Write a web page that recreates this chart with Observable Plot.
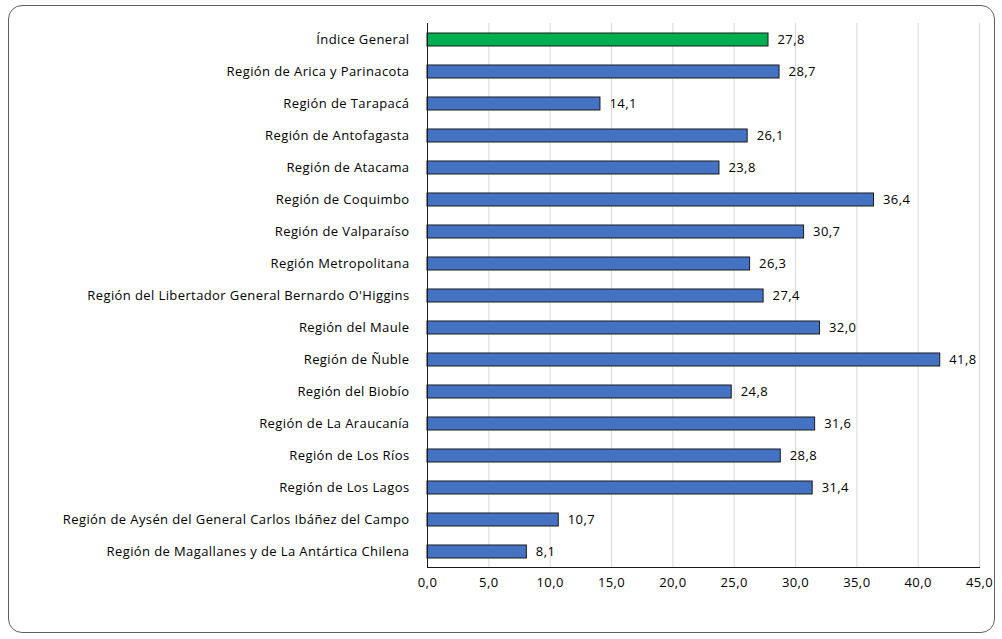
<!DOCTYPE html>
<html>
<head>
<meta charset="utf-8">
<script src="https://cdn.jsdelivr.net/npm/d3@7"></script>
<script src="https://cdn.jsdelivr.net/npm/@observablehq/plot@0.6"></script>
<style>
  html, body { margin: 0; padding: 0; background: #fff; }
  #frame { position: absolute; left: 8px; top: 5px; width: 985px; height: 626px;
           border: 1.5px solid #5f5f5f; border-radius: 14px; }
  #chart { position: absolute; left: 0; top: 0; }
  #chart text { letter-spacing: 0.4px; }
</style>
</head>
<body>
<div id="frame"></div>
<div id="chart"></div>
<script>
const categories = [
  "Índice General",
  "Región de Arica y Parinacota",
  "Región de Tarapacá",
  "Región de Antofagasta",
  "Región de Atacama",
  "Región de Coquimbo",
  "Región de Valparaíso",
  "Región Metropolitana",
  "Región del Libertador General Bernardo O'Higgins",
  "Región del Maule",
  "Región de Ñuble",
  "Región del Biobío",
  "Región de La Araucanía",
  "Región de Los Ríos",
  "Región de Los Lagos",
  "Región de Aysén del General Carlos Ibáñez del Campo",
  "Región de Magallanes y de La Antártica Chilena"
];
const values = [27.8, 28.7, 14.1, 26.1, 23.8, 36.4, 30.7, 26.3, 27.4, 32.0, 41.8, 24.8, 31.6, 28.8, 31.4, 10.7, 8.1];
const xTicks = [0, 5, 10, 15, 20, 25, 30, 35, 40, 45];
const barColors = ["#00b050", "#4472c4"];

const data = categories.map((c, i) => ({category: c, value: values[i], color: i === 0 ? barColors[0] : barColors[1]}));
const fmt = v => v.toFixed(1).replace(".", ",");

const chart = Plot.plot({
  width: 1002,
  height: 639,
  marginLeft: 427,
  marginRight: 23,
  marginTop: 23,
  marginBottom: 72,
  style: {fontFamily: "'Open Sans', sans-serif", fontSize: "13px", color: "#000", background: "transparent"},
  x: {domain: [0, 45], ticks: xTicks},
  y: {domain: categories, padding: 0.6, paddingOuter: 0.3, align: 0.5},
  color: {type: "identity"},
  marks: [
    Plot.gridX(xTicks.filter(t => t > 0), {stroke: "#d9d9d9", strokeOpacity: 1}),
    Plot.barX(data, {y: "category", x: "value", fill: "color", stroke: "#1a1a1a", strokeWidth: 1}),
    Plot.text(data, {y: "category", x: "value", text: d => fmt(d.value), textAnchor: "start", dx: 9, fill: "#000", fontSize: 13}),
    Plot.ruleX([0], {stroke: "#1a1a1a", strokeWidth: 1}),
    Plot.frame({anchor: "bottom", stroke: "#1a1a1a"}),
    Plot.axisY({tickSize: 0, tickPadding: 18, label: null}),
    Plot.axisX(xTicks, {tickSize: 0, tickPadding: 10, tickFormat: fmt, label: null})
  ]
});
document.getElementById("chart").appendChild(chart);
</script>
</body>
</html>
